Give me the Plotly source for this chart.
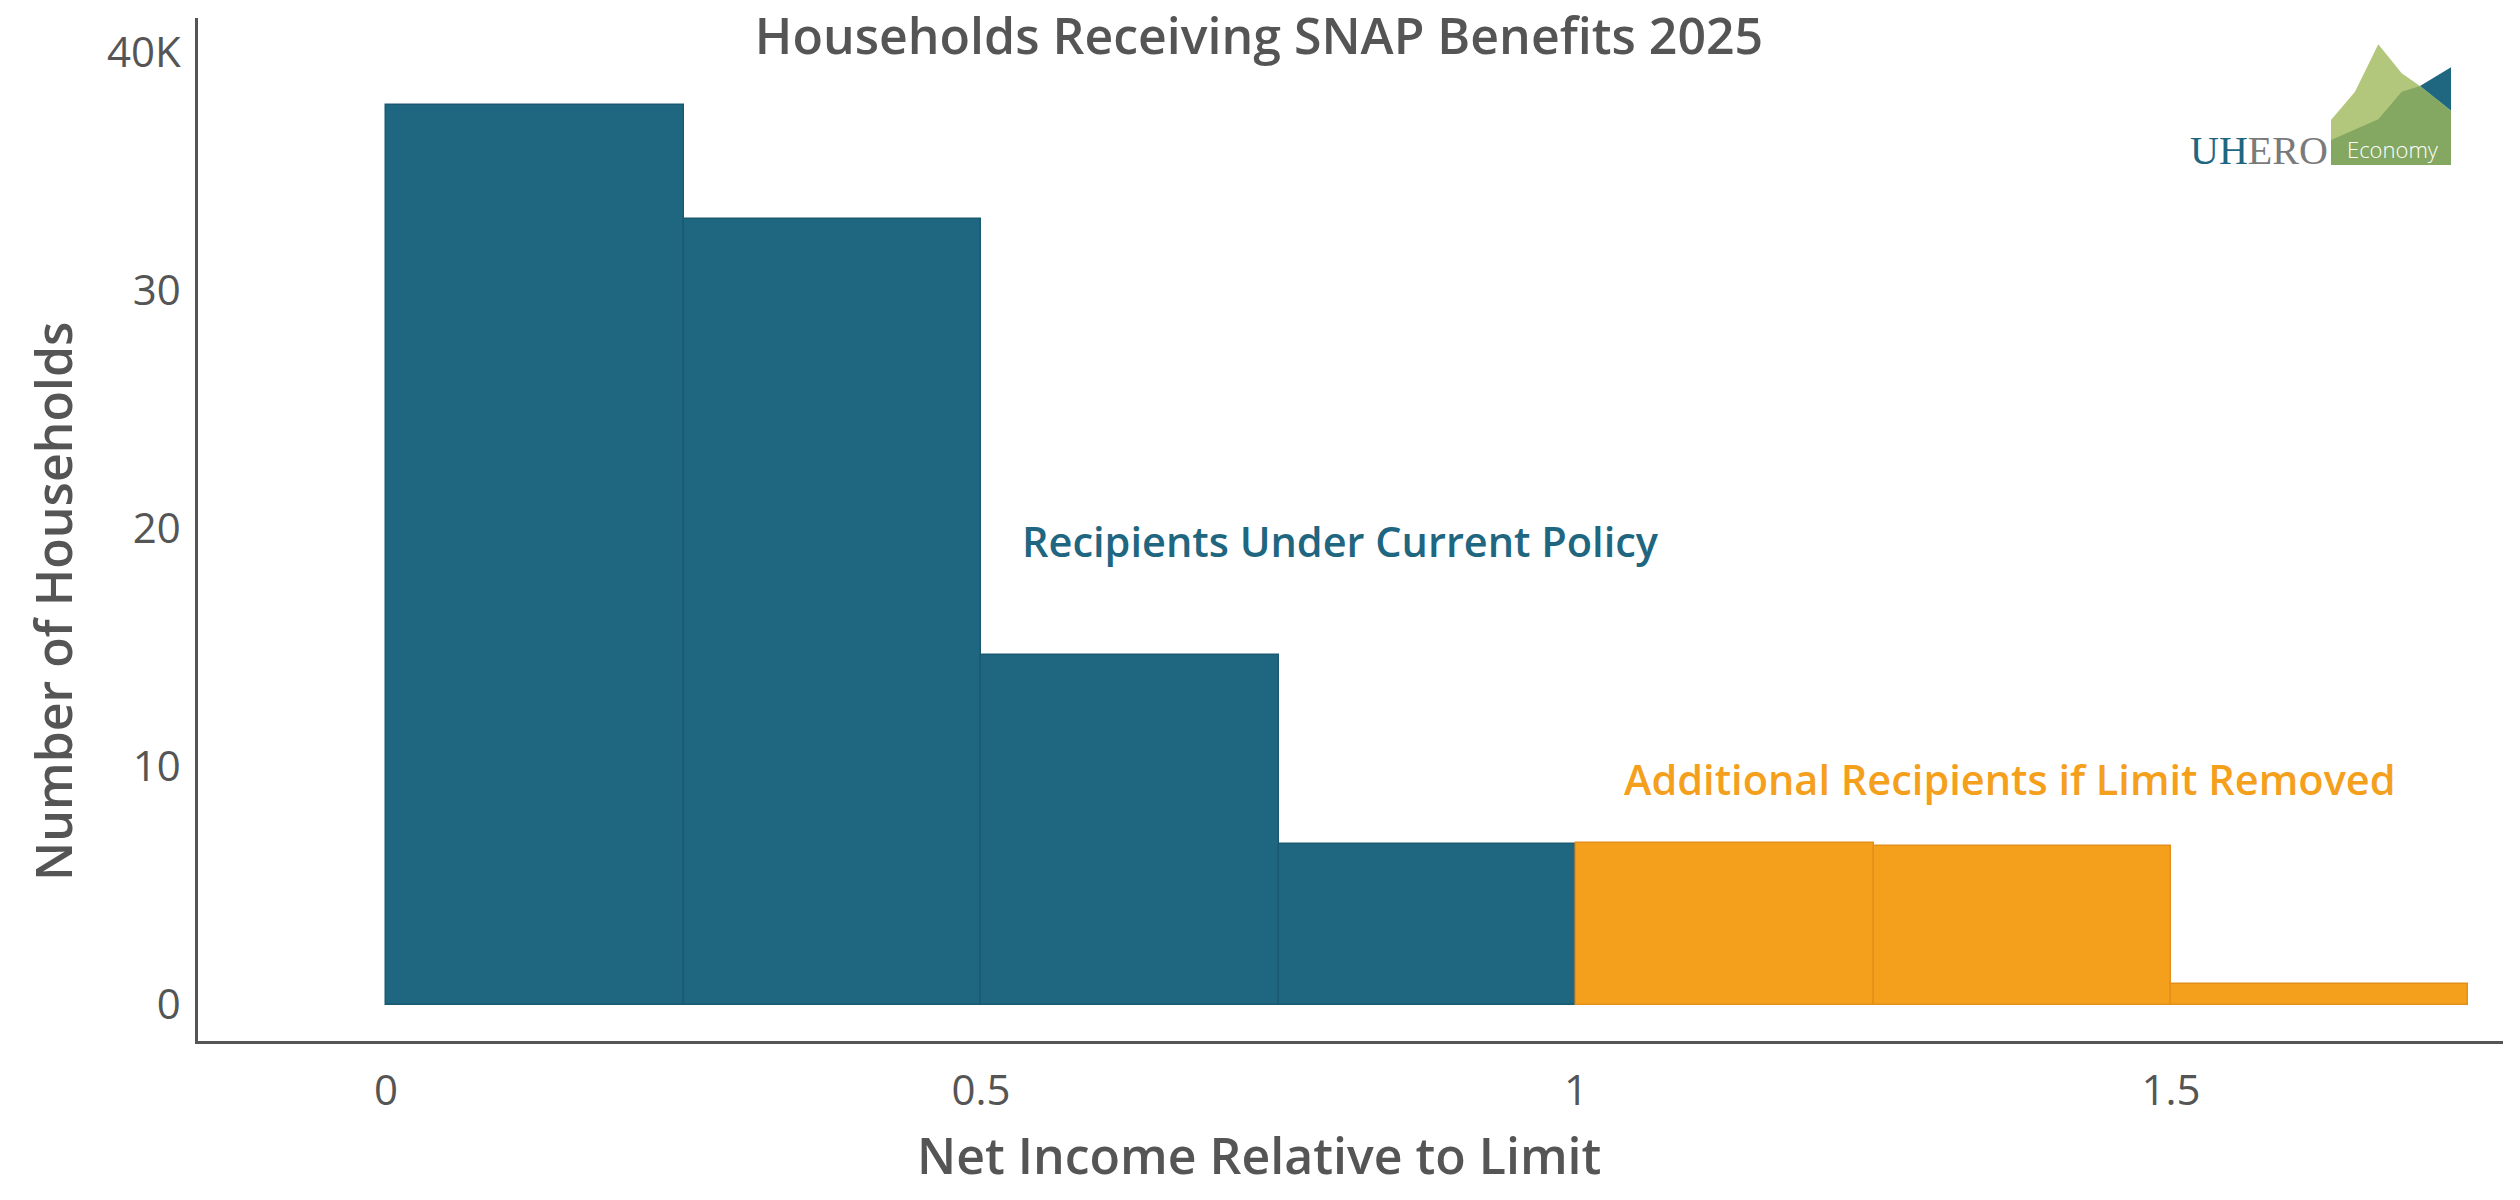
import plotly.graph_objects as go

# ---------------- data ----------------
bins_current = [0.0, 0.25, 0.5, 0.75]          # left edges of bins (net income / limit)
households_current = [37800, 33000, 14680, 6760]
bins_additional = [1.0, 1.25, 1.5]
households_additional = [6770, 6670, 870]
bin_width = 0.25

x_tickvals = [0, 0.5, 1, 1.5]
x_ticktext = ["0", "0.5", "1", "1.5"]
y_tickvals = [0, 10000, 20000, 30000, 40000]
y_ticktext = ["0", "10", "20", "30", "40K"]

TEAL = "#1f6680"
ORANGE = "#f5a01d"
GRAY = "#555555"
FONT = "Open Sans"

# ---------------- figure ----------------
PAGE_OFF = 8                      # default body margin of the html page
W, H = 2520 - PAGE_OFF, 1200 - PAGE_OFF
# plot area in page pixels
L, R, T, B = 198, 2503, 18, 1041


def px(x):
    return (x - L) / (R - L)


def py(y):
    return (B - y) / (B - T)


def path(points):
    return "M " + " L ".join(f"{px(x):.5f},{py(y):.5f}" for x, y in points) + " Z"


fig = go.Figure()
fig.add_trace(go.Bar(
    x=[b + bin_width / 2 for b in bins_current],
    y=households_current,
    width=bin_width,
    marker=dict(color=TEAL, line=dict(color="#1a5a70", width=1.5)),
    name="Recipients Under Current Policy",
    showlegend=False,
))
fig.add_trace(go.Bar(
    x=[b + bin_width / 2 for b in bins_additional],
    y=households_additional,
    width=bin_width,
    marker=dict(color=ORANGE, line=dict(color="#e3901a", width=1.5)),
    name="Additional Recipients if Limit Removed",
    showlegend=False,
))

# logo shapes
light = [(2331, 120), (2355, 91.7), (2378.3, 44.3), (2401.7, 73.3), (2420, 86),
         (2451, 110.7), (2451, 165), (2331, 165)]
teal_tri = [(2420, 86), (2451, 67.3), (2451, 110.7)]
dark = [(2331, 140), (2378.3, 119.3), (2401.7, 91.7), (2420, 86), (2451, 110.7),
        (2451, 165), (2331, 165)]
shapes = []
for pts, col in [(light, "#b3c77c"), (teal_tri, TEAL), (dark, "#84a862")]:
    shapes.append(dict(type="path", xref="paper", yref="paper", path=path(pts),
                       fillcolor=col, line=dict(width=0), layer="above"))

annotations = [
    dict(text="Recipients Under Current Policy", x=0.533, y=19470, xref="x", yref="y",
         xanchor="left", yanchor="middle", showarrow=False,
         font=dict(family=FONT, size=41.5, color=TEAL, weight=600)),
    dict(text="Additional Recipients if Limit Removed", x=1.039, y=9470, xref="x", yref="y",
         xanchor="left", yanchor="middle", showarrow=False,
         font=dict(family=FONT, size=41.5, color=ORANGE, weight=600)),
    dict(text="<span style='color:#1f6680'>UH</span><span style='color:#7a7a7a'>ERO</span>",
         x=px(2330), y=py(150), xref="paper", yref="paper", xanchor="right", yanchor="middle",
         showarrow=False, font=dict(family="Liberation Serif", size=40)),
    dict(text="Economy", x=px(2393), y=py(149), xref="paper", yref="paper",
         xanchor="center", yanchor="middle", showarrow=False,
         font=dict(family=FONT, size=22, color="white", weight=300)),
    # axis titles (centred on the page, as in the original)
    dict(text="Net Income Relative to Limit", x=px(1259), y=py(1155), xref="paper", yref="paper",
         xanchor="center", yanchor="middle", showarrow=False,
         font=dict(family=FONT, size=50, color=GRAY, weight=600)),
    dict(text="Number of Households", x=px(53), y=py(601), xref="paper", yref="paper",
         xanchor="center", yanchor="middle", showarrow=False, textangle=-90,
         font=dict(family=FONT, size=50, color=GRAY, weight=600)),
]

fig.update_layout(
    width=W, height=H,
    margin=dict(l=L - PAGE_OFF, r=2520 - R, t=T - PAGE_OFF, b=1200 - B),
    paper_bgcolor="white", plot_bgcolor="white",
    barmode="overlay",
    bargap=0,
    title=dict(text="Households Receiving SNAP Benefits 2025", x=(1259 - PAGE_OFF) / W,
               xref="container", xanchor="center", y=1 - (36 - PAGE_OFF) / H, yref="container",
               yanchor="middle", font=dict(family=FONT, size=50, color=GRAY, weight=600)),
    font=dict(family=FONT, color=GRAY),
    shapes=shapes,
    annotations=annotations,
)
fig.update_xaxes(
    range=[-0.158, 1.779], tickvals=x_tickvals, ticktext=x_ticktext,
    showline=True, linecolor=GRAY, linewidth=2.5, showgrid=False, zeroline=False,
    ticks="", ticklabelstandoff=11, tickfont=dict(family=FONT, size=42, color=GRAY),
)
fig.update_yaxes(
    range=[-1530, 41450], tickvals=y_tickvals, ticktext=y_ticktext,
    showline=True, linecolor=GRAY, linewidth=2.5, showgrid=False, zeroline=False,
    ticks="", ticklabelstandoff=6, tickfont=dict(family=FONT, size=42, color=GRAY),
)

fig.write_html("out.html")
